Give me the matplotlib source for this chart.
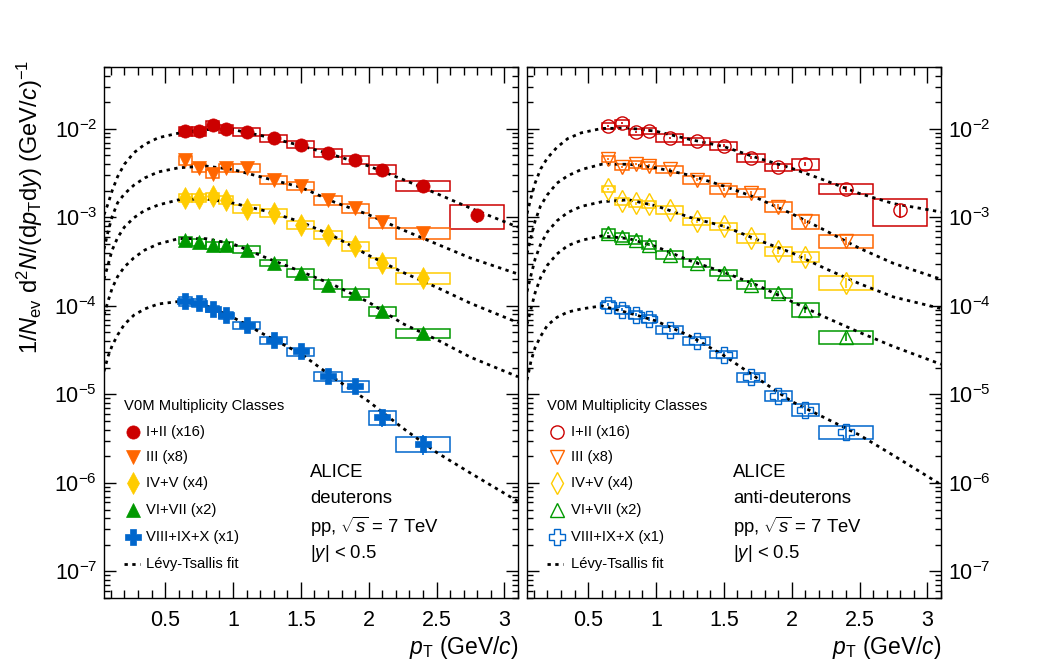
import matplotlib
matplotlib.use("Agg")
import matplotlib.pyplot as plt
from matplotlib.patches import Rectangle
from matplotlib.ticker import LogLocator, MultipleLocator, FormatStrFormatter, NullFormatter, FixedLocator
from matplotlib.lines import Line2D

plt.rcParams['font.family'] = ['Liberation Sans', 'DejaVu Sans']
plt.rcParams['mathtext.fontset'] = 'custom'
plt.rcParams['mathtext.rm'] = 'Liberation Sans'
plt.rcParams['mathtext.it'] = 'Liberation Sans:italic'
plt.rcParams['mathtext.bf'] = 'Liberation Sans:bold'

# pT bins (GeV/c)
pt = [0.65, 0.75, 0.85, 0.95, 1.1, 1.3, 1.5, 1.7, 1.9, 2.1, 2.4, 2.8]
pt_lo = [0.6, 0.7, 0.8, 0.9, 1.0, 1.2, 1.4, 1.6, 1.8, 2.0, 2.2, 2.6]
pt_hi = [0.7, 0.8, 0.9, 1.0, 1.2, 1.4, 1.6, 1.8, 2.0, 2.2, 2.6, 3.0]
y_ticks = [1e-7, 1e-6, 1e-5, 1e-4, 1e-3, 1e-2]

classes = ["I+II (x16)", "III (x8)", "IV+V (x4)", "VI+VII (x2)", "VIII+IX+X (x1)"]
colors = ["#cc0000", "#ff6600", "#ffcc00", "#009900", "#0066cc"]
markers = ["o", "v", "d", "^", "P"]
msizes = [9.5, 9.5, 11, 9.5, 11]

# deuterons (scaled spectra)
d_I_II = [9.4e-3, 9.4e-3, 1.12e-2, 1.0e-2, 9.3e-3, 7.9e-3, 6.65e-3, 5.36e-3, 4.5e-3, 3.47e-3, 2.29e-3, 1.05e-3]
d_III = [4.42e-3, 3.62e-3, 3.1e-3, 3.62e-3, 3.62e-3, 2.67e-3, 2.29e-3, 1.56e-3, 1.28e-3, 8.8e-4, 6.68e-4]
d_IV_V = [1.66e-3, 1.66e-3, 1.73e-3, 1.59e-3, 1.25e-3, 1.12e-3, 8.3e-4, 6.4e-4, 4.7e-4, 3.06e-4, 2.07e-4]
d_VI_VII = [5.5e-4, 5.23e-4, 4.84e-4, 4.84e-4, 4.33e-4, 3.06e-4, 2.36e-4, 1.74e-4, 1.4e-4, 8.7e-5, 4.95e-5]
d_VIII_X = [1.13e-4, 1.08e-4, 9.25e-5, 7.83e-5, 6.04e-5, 4.09e-5, 3.05e-5, 1.6e-5, 1.24e-5, 5.51e-6, 2.78e-6]

# relative systematic / statistical uncertainties, deuterons
d_I_II_sys = [0.12, 0.12, 0.10, 0.10, 0.10, 0.09, 0.09, 0.11, 0.11, 0.12, 0.13, 0.30]
d_III_sys = [0.11, 0.10, 0.11, 0.10, 0.10, 0.10, 0.10, 0.11, 0.12, 0.13, 0.14]
d_IV_V_sys = [0.10, 0.10, 0.10, 0.10, 0.10, 0.10, 0.11, 0.11, 0.12, 0.13, 0.15]
d_VI_VII_sys = [0.09, 0.09, 0.09, 0.09, 0.09, 0.09, 0.10, 0.12, 0.10, 0.12, 0.12]
d_VIII_X_sys = [0.11, 0.10, 0.09, 0.09, 0.10, 0.10, 0.10, 0.12, 0.14, 0.18, 0.20]

d_I_II_stat = [0.03, 0.03, 0.03, 0.03, 0.03, 0.03, 0.04, 0.04, 0.05, 0.06, 0.08, 0.18]
d_III_stat = [0.03, 0.03, 0.03, 0.03, 0.03, 0.04, 0.04, 0.05, 0.06, 0.07, 0.10]
d_IV_V_stat = [0.03, 0.03, 0.03, 0.03, 0.03, 0.04, 0.04, 0.05, 0.06, 0.07, 0.10]
d_VI_VII_stat = [0.03, 0.03, 0.03, 0.03, 0.04, 0.04, 0.05, 0.05, 0.06, 0.08, 0.11]
d_VIII_X_stat = [0.04, 0.04, 0.04, 0.05, 0.05, 0.06, 0.07, 0.08, 0.10, 0.22, 0.25]

# anti-deuterons (scaled spectra)
a_I_II = [1.07e-2, 1.17e-2, 9.25e-3, 9.57e-3, 7.91e-3, 7.31e-3, 6.47e-3, 4.7e-3, 3.68e-3, 4.02e-3, 2.11e-3, 1.2e-3]
a_III = [4.58e-3, 3.72e-3, 4.02e-3, 3.85e-3, 3.53e-3, 2.67e-3, 2.05e-3, 1.89e-3, 1.32e-3, 9.03e-4, 5.47e-4]
a_IV_V = [2.1e-3, 1.52e-3, 1.44e-3, 1.4e-3, 1.22e-3, 9.04e-4, 7.93e-4, 5.86e-4, 4.14e-4, 3.58e-4, 1.82e-4]
a_VI_VII = [6.68e-4, 5.96e-4, 5.57e-4, 4.93e-4, 3.8e-4, 3.06e-4, 2.36e-4, 1.74e-4, 1.39e-4, 9.08e-5, 4.47e-5]
a_VIII_X = [1.03e-4, 9.08e-5, 7.97e-5, 7.13e-5, 5.4e-5, 4.05e-5, 2.82e-5, 1.56e-5, 9.68e-6, 6.73e-6, 3.77e-6]

a_I_II_sys = [0.08, 0.08, 0.08, 0.08, 0.10, 0.09, 0.10, 0.10, 0.10, 0.14, 0.14, 0.33]
a_III_sys = [0.08, 0.09, 0.09, 0.09, 0.09, 0.10, 0.10, 0.10, 0.12, 0.18, 0.17]
a_IV_V_sys = [0.08, 0.09, 0.10, 0.10, 0.10, 0.10, 0.10, 0.12, 0.12, 0.13, 0.18]
a_VI_VII_sys = [0.12, 0.11, 0.10, 0.10, 0.10, 0.10, 0.09, 0.11, 0.12, 0.18, 0.17]
a_VIII_X_sys = [0.10, 0.10, 0.10, 0.10, 0.10, 0.10, 0.09, 0.12, 0.12, 0.15, 0.17]

a_I_II_stat = [0.03, 0.03, 0.03, 0.03, 0.03, 0.03, 0.04, 0.04, 0.05, 0.06, 0.08, 0.18]
a_III_stat = [0.03, 0.03, 0.03, 0.03, 0.03, 0.04, 0.04, 0.05, 0.06, 0.07, 0.10]
a_IV_V_stat = [0.03, 0.03, 0.03, 0.03, 0.03, 0.04, 0.04, 0.05, 0.06, 0.07, 0.12]
a_VI_VII_stat = [0.03, 0.03, 0.03, 0.03, 0.04, 0.04, 0.05, 0.05, 0.06, 0.08, 0.11]
a_VIII_X_stat = [0.04, 0.04, 0.04, 0.05, 0.05, 0.06, 0.07, 0.08, 0.10, 0.12, 0.15]

# Levy-Tsallis fit curves
fit_pt = [0.05, 0.08, 0.11, 0.15, 0.2, 0.27, 0.35, 0.45, 0.6, 0.8, 1.0, 1.25, 1.5, 1.75, 2.0, 2.25, 2.5, 2.75, 3.1]
d_fit_I_II = [1.07e-3, 1.43e-3, 2.0e-3, 2.88e-3, 3.98e-3, 5.37e-3, 6.68e-3, 7.94e-3, 8.95e-3, 9.82e-3, 9.82e-3, 8.13e-3, 6.46e-3, 5.01e-3, 3.80e-3, 2.69e-3, 1.86e-3, 1.27e-3, 7.76e-4]
d_fit_III = [4.37e-4, 6.92e-4, 1.02e-3, 1.46e-3, 1.84e-3, 2.31e-3, 2.79e-3, 3.26e-3, 3.63e-3, 3.80e-3, 3.47e-3, 2.75e-3, 2.19e-3, 1.48e-3, 1.07e-3, 7.24e-4, 5.01e-4, 3.47e-4, 2.29e-4]
d_fit_IV_V = [2.0e-4, 2.92e-4, 4.27e-4, 5.89e-4, 7.76e-4, 9.89e-4, 1.20e-3, 1.38e-3, 1.58e-3, 1.62e-3, 1.45e-3, 1.17e-3, 8.91e-4, 6.03e-4, 3.72e-4, 2.40e-4, 1.62e-4, 1.07e-4, 6.46e-5]
d_fit_VI_VII = [7.94e-5, 1.135e-4, 1.58e-4, 2.14e-4, 2.75e-4, 3.49e-4, 4.27e-4, 5.01e-4, 5.75e-4, 5.75e-4, 5.01e-4, 3.47e-4, 2.45e-4, 1.70e-4, 1.10e-4, 6.31e-5, 4.17e-5, 2.63e-5, 1.58e-5]
d_fit_VIII_X = [1.82e-5, 2.69e-5, 3.55e-5, 4.68e-5, 6.17e-5, 7.85e-5, 9.23e-5, 1.05e-4, 1.12e-4, 1.0e-4, 7.41e-5, 4.57e-5, 2.88e-5, 1.51e-5, 8.32e-6, 4.17e-6, 2.21e-6, 1.29e-6, 6.17e-7]

a_fit_I_II = [1.10e-3, 1.68e-3, 2.45e-3, 3.51e-3, 4.68e-3, 6.17e-3, 7.76e-3, 9.02e-3, 1.01e-2, 1.02e-2, 9.40e-3, 7.59e-3, 6.31e-3, 4.68e-3, 3.59e-3, 2.60e-3, 1.86e-3, 1.43e-3, 1.15e-3]
a_fit_III = [3.89e-4, 6.03e-4, 9.12e-4, 1.35e-3, 1.80e-3, 2.43e-3, 2.95e-3, 3.47e-3, 3.98e-3, 3.98e-3, 3.63e-3, 2.99e-3, 2.26e-3, 1.64e-3, 1.10e-3, 7.08e-4, 4.47e-4, 3.02e-4, 2.0e-4]
a_fit_IV_V = [1.45e-4, 2.24e-4, 3.39e-4, 4.95e-4, 6.84e-4, 9.12e-4, 1.135e-3, 1.33e-3, 1.50e-3, 1.58e-3, 1.35e-3, 1.0e-3, 7.94e-4, 5.56e-4, 3.98e-4, 2.63e-4, 1.78e-4, 1.26e-4, 9.33e-5]
a_fit_VI_VII = [6.17e-5, 9.33e-5, 1.41e-4, 2.09e-4, 2.88e-4, 3.85e-4, 4.79e-4, 5.50e-4, 6.17e-4, 5.75e-4, 4.68e-4, 3.24e-4, 2.40e-4, 1.70e-4, 1.12e-4, 7.41e-5, 5.01e-5, 3.47e-5, 2.19e-5]
a_fit_VIII_X = [1.45e-5, 2.40e-5, 3.39e-5, 4.52e-5, 6.03e-5, 7.41e-5, 8.51e-5, 9.23e-5, 1.0e-4, 8.32e-5, 6.76e-5, 4.57e-5, 2.75e-5, 1.51e-5, 8.32e-6, 5.37e-6, 3.47e-6, 2.04e-6, 9.55e-7]

d_vals = [d_I_II, d_III, d_IV_V, d_VI_VII, d_VIII_X]
d_syss = [d_I_II_sys, d_III_sys, d_IV_V_sys, d_VI_VII_sys, d_VIII_X_sys]
d_stats = [d_I_II_stat, d_III_stat, d_IV_V_stat, d_VI_VII_stat, d_VIII_X_stat]
d_fits = [d_fit_I_II, d_fit_III, d_fit_IV_V, d_fit_VI_VII, d_fit_VIII_X]
a_vals = [a_I_II, a_III, a_IV_V, a_VI_VII, a_VIII_X]
a_syss = [a_I_II_sys, a_III_sys, a_IV_V_sys, a_VI_VII_sys, a_VIII_X_sys]
a_stats = [a_I_II_stat, a_III_stat, a_IV_V_stat, a_VI_VII_stat, a_VIII_X_stat]
a_fits = [a_fit_I_II, a_fit_III, a_fit_IV_V, a_fit_VI_VII, a_fit_VIII_X]

W, H = 1046, 672
fig = plt.figure(figsize=(W / 100, H / 100), dpi=100)
ax_l = fig.add_axes([104 / W, (H - 598) / H, 414 / W, 531 / H])
ax_r = fig.add_axes([527 / W, (H - 598) / H, 414 / W, 531 / H])

FIT_DASH = (1.2, 1.6)
LEG_FS = 10.6
TXT_FS = 13.3


def draw_panel(ax, vals, syss, stats, fits, hollow):
    for i in range(5):
        y = vals[i]
        n = len(y)
        for j in range(n):
            s = syss[i][j]
            ax.add_patch(Rectangle((pt_lo[j], y[j] * (1 - s)), pt_hi[j] - pt_lo[j], 2 * s * y[j],
                                   fill=False, edgecolor=colors[i], lw=1.1, zorder=2))
        err = [y[j] * stats[i][j] for j in range(n)]
        ax.errorbar(pt[:n], y, yerr=err, fmt='none', ecolor=colors[i], elinewidth=1.2,
                    capsize=0, zorder=3)
        ax.plot(fit_pt, fits[i], color='black', lw=2.0, dashes=FIT_DASH, zorder=4)
        if hollow:
            ax.plot(pt[:n], y, ls='none', marker=markers[i], ms=msizes[i], mfc='none',
                    mec=colors[i], mew=1.0, zorder=5)
        else:
            ax.plot(pt[:n], y, ls='none', marker=markers[i], ms=msizes[i], mfc=colors[i],
                    mec=colors[i], mew=0.5, zorder=5)


def style_axes(ax, right_labels):
    ax.set_yscale('log')
    ax.set_xlim(0.05, 3.1)
    ax.set_ylim(5e-8, 5e-2)
    ax.xaxis.set_major_locator(MultipleLocator(0.5))
    ax.xaxis.set_minor_locator(MultipleLocator(0.1))
    ax.xaxis.set_major_formatter(FormatStrFormatter('%g'))
    ax.yaxis.set_major_locator(FixedLocator(y_ticks))
    ax.yaxis.set_minor_locator(LogLocator(base=10, subs=[2, 3, 4, 5, 6, 7, 8, 9], numticks=20))
    ax.yaxis.set_minor_formatter(NullFormatter())
    ax.tick_params(which='both', direction='in', top=True, right=True, width=1)
    ax.tick_params(axis='x', which='major', length=11.5, labelsize=15.5, pad=9)
    ax.tick_params(axis='x', which='minor', length=5.8)
    ax.tick_params(axis='y', which='major', length=8.6, labelsize=15.5, pad=5,
                   labelleft=not right_labels, labelright=right_labels)
    ax.tick_params(axis='y', which='minor', length=4.3)
    for sp in ax.spines.values():
        sp.set_linewidth(1.0)
    ax.text(1.0, -0.094, r'$\it{p}_{\rm T}$ (GeV/$\it{c}$)', transform=ax.transAxes,
            ha='right', va='center', fontsize=16.5)


def draw_legend(ax, x_title, x_mark, x_text, hollow, particle):
    ax.text(x_title, 0.3616, 'V0M Multiplicity Classes', transform=ax.transAxes,
            ha='left', va='center', fontsize=LEG_FS)
    rows = [0.3126, 0.2655, 0.2166, 0.1657, 0.1149]
    for i in range(5):
        if hollow:
            ax.plot([x_mark], [rows[i]], transform=ax.transAxes, marker=markers[i], ms=msizes[i],
                    mfc='none', mec=colors[i], mew=1.0, ls='none', clip_on=False)
        else:
            ax.plot([x_mark], [rows[i]], transform=ax.transAxes, marker=markers[i], ms=msizes[i],
                    mfc=colors[i], mec=colors[i], mew=0.5, ls='none', clip_on=False)
        ax.text(x_text, rows[i], classes[i], transform=ax.transAxes, ha='left', va='center',
                fontsize=LEG_FS)
    ax.add_line(Line2D([x_title, x_title + 0.04], [0.064, 0.064], transform=ax.transAxes,
                       color='black', lw=2.0, dashes=FIT_DASH))
    ax.text(x_text, 0.064, u'L\u00e9vy-Tsallis fit', transform=ax.transAxes, ha='left',
            va='center', fontsize=LEG_FS)
    tx = 0.497
    ax.text(tx, 0.237, 'ALICE', transform=ax.transAxes, ha='left', va='center', fontsize=TXT_FS)
    ax.text(tx, 0.188, particle, transform=ax.transAxes, ha='left', va='center', fontsize=TXT_FS)
    ax.text(tx, 0.134, r'pp, $\sqrt{s}$ = 7 TeV', transform=ax.transAxes, ha='left',
            va='center', fontsize=TXT_FS)
    ax.text(tx, 0.084, r'|$\it{y}$| < 0.5', transform=ax.transAxes, ha='left', va='center',
            fontsize=TXT_FS)


draw_panel(ax_l, d_vals, d_syss, d_stats, d_fits, False)
draw_panel(ax_r, a_vals, a_syss, a_stats, a_fits, True)
style_axes(ax_l, False)
style_axes(ax_r, True)
draw_legend(ax_l, 0.048, 0.070, 0.102, False, 'deuterons')
draw_legend(ax_r, 0.048, 0.072, 0.106, True, 'anti-deuterons')

fig.text(30 / W, (H - 60) / H,
         r'1/$\it{N}_{\rm ev}$ d$^{2}\it{N}$/(d$\it{p}_{\rm T}$d$\it{y}$) (GeV/$\it{c}$)$^{-1}$',
         rotation=90, ha='center', va='top', fontsize=17)

fig.savefig('out.png', dpi=100)
